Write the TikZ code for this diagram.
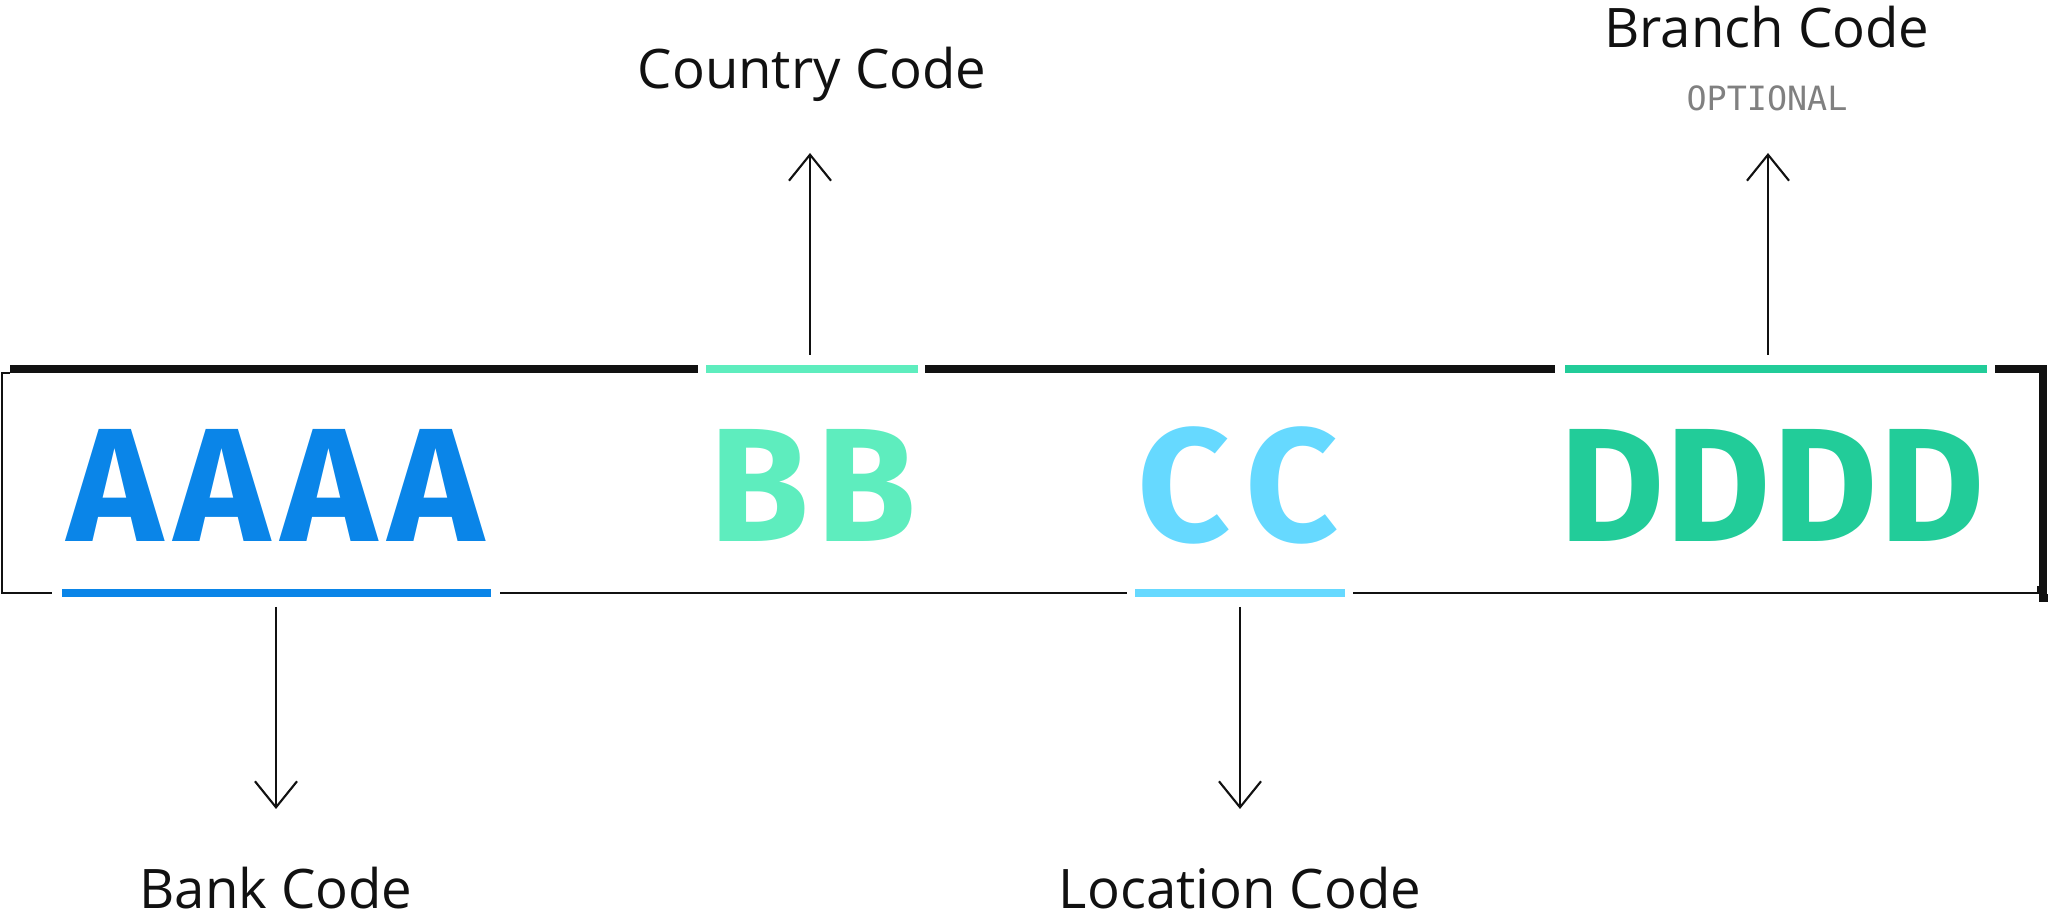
\documentclass[tikz,border=0pt]{standalone}
\usepackage{fontspec}
\setmainfont{Open Sans}
\newfontfamily\bigfont{Fira Sans}
\newfontfamily\monofont{DejaVu Sans Mono}
\usetikzlibrary{arrows.meta}
\definecolor{bankblue}{HTML}{0A85E8}
\definecolor{countryteal}{HTML}{5EEDBE}
\definecolor{loccyan}{HTML}{66D9FF}
\definecolor{branchgreen}{HTML}{22CC99}
\definecolor{barblack}{HTML}{111111}
\tikzset{
  letter/.style={inner sep=0pt, font=\bigfont\fontsize{46}{46}\selectfont\bfseries},
  label/.style={inner sep=0pt, font=\fontsize{15.5}{17}\selectfont, text=barblack},
  pointer/.style={-{Straight Barb[length=2.6mm,width=4.2mm]}, line width=0.6pt, barblack},
  thickbar/.style={line width=0.8mm},
  thinline/.style={line width=0.5pt, barblack}
}
\begin{document}
\begin{tikzpicture}[x=0.01cm,y=-0.01cm]
\useasboundingbox (0,0) rectangle (2048,922);
% top bars
\draw[thickbar, barblack] (10,369) -- (698,369);
\draw[thickbar, countryteal] (706,369) -- (918,369);
\draw[thickbar, barblack] (925,369) -- (1555,369);
\draw[thickbar, branchgreen] (1565,369) -- (1987,369);
\draw[thickbar, barblack] (1995,369) -- (2043,369) -- (2043,598) -- (2048,598);
% frame
\draw[thinline] (10,373) -- (2,373) -- (2,593) -- (52,593);
\draw[thickbar, bankblue] (62,593) -- (491,593);
\draw[thinline] (500,593) -- (1127,593);
\draw[thickbar, loccyan] (1135,593) -- (1345,593);
\draw[thinline] (1353,593) -- (2038,593) -- (2038,586);
% letters
\foreach \x in {115,222,329,436} \node[letter, text=bankblue] at (\x,485) {A};
\foreach \x in {759,866} \node[letter, text=countryteal] at (\x,485) {B};
\foreach \x in {1184,1292} \node[letter, text=loccyan] at (\x,485) {C};
\foreach \x in {1612,1718,1825,1932} \node[letter, text=branchgreen] at (\x,485) {D};
% labels
\node[label] (country) at (812,74) {Country Code};
\node[label] (branch) at (1767,27) {Branch Code};
\node[inner sep=0pt, font=\monofont\fontsize{9.5}{11}\selectfont, text=gray] (optional) at (1767,98) {OPTIONAL};
\node[label] (bank) at (276,888) {Bank Code};
\node[label] (location) at (1240,888) {Location Code};
% pointers
\coordinate (countrystart) at (810,355);
\coordinate (branchstart) at (1768,355);
\coordinate (bankstart) at (276,607);
\coordinate (locstart) at (1240,607);
\draw[pointer] (countrystart) -- (810,153);
\draw[pointer] (branchstart) -- (1768,153);
\draw[pointer] (bankstart) -- (276,809);
\draw[pointer] (locstart) -- (1240,809);
\end{tikzpicture}
\end{document}
